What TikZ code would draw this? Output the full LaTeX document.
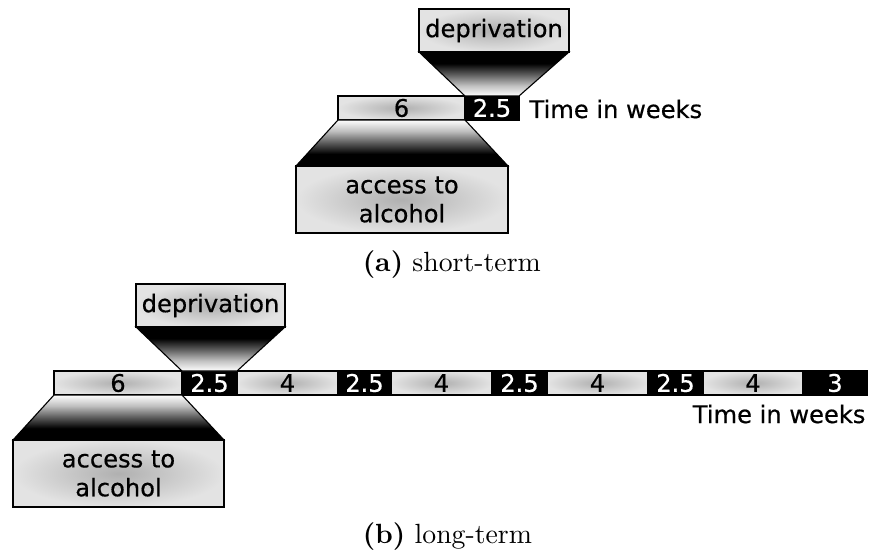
\documentclass[tikz,border=0pt]{standalone}
\usepackage{fontspec}
\newfontfamily\dejavu[FakeBold=0.5]{DejaVu Sans}
\usetikzlibrary{positioning}
\newcommand{\pxu}{0.36pt}
\pgfdeclareverticalshading{fadedown}{100bp}{color(0bp)=(white); color(25bp)=(white); color(37bp)=(black!25); color(50bp)=(black!65); color(62bp)=(black); color(100bp)=(black)}
\pgfdeclareverticalshading{fadeup}{100bp}{color(0bp)=(black); color(38bp)=(black); color(50bp)=(black!65); color(63bp)=(black!25); color(75bp)=(white); color(100bp)=(white)}
\tikzstyle{weekbox} = [rectangle, draw=black, inner sep=0pt, outer sep=0pt, minimum height=24*\pxu, inner color=gray!62, outer color=gray!22, font=\dejavu\fontsize{8.7}{10.4}\selectfont]
\tikzstyle{darkbox} = [rectangle, draw=black, fill=black, text=white, inner sep=0pt, outer sep=0pt, minimum height=24*\pxu, font=\dejavu\fontsize{8.7}{10.4}\selectfont]
\tikzstyle{phase} = [rectangle, draw=black, inner sep=0pt, outer sep=0pt, align=center, inner color=gray!62, outer color=gray!22, font=\dejavu\fontsize{8.7}{10.4}\selectfont]
\tikzstyle{axislabel} = [inner sep=0pt, font=\dejavu\fontsize{8.7}{10.4}\selectfont]
\tikzstyle{funnel} = [draw=black, line width=0.4pt]

\begin{document}
\begin{tikzpicture}[x=0.36pt, y=-0.36pt]
    \useasboundingbox (0,0) rectangle (869,557);

    % (a) short-term
    \node (a1) [weekbox, minimum width=127*\pxu, anchor=north west] at (338,96) {6};
    \node (a2) [darkbox, minimum width=54*\pxu, right=0pt of a1] {2.5};
    \node (atime) [axislabel, anchor=base west] at (529,118) {Time in weeks};
    \node (depA) [phase, minimum width=150*\pxu, minimum height=43*\pxu, anchor=north west] at (419,9) {deprivation};
    \node (accA) [phase, minimum width=212*\pxu, minimum height=67*\pxu, anchor=north west] at (296,166) {access to\\alcohol};
    \shade[funnel, shading=fadedown] (depA.south west) -- (depA.south east) -- (a2.north east) -- (a2.north west) -- cycle;
    \shade[funnel, shading=fadeup] (a1.south west) -- (a1.south east) -- (accA.north east) -- (accA.north west) -- cycle;
    \node (capA) [anchor=west] at (353,265) {\textbf{(a)} short-term};

    % (b) long-term
    \node (b1) [weekbox, minimum width=128*\pxu, anchor=north west] at (54,371) {6};
    \node (b2) [darkbox, minimum width=55*\pxu, right=0pt of b1] {2.5};
    \node (b3) [weekbox, minimum width=101*\pxu, right=0pt of b2] {4};
    \node (b4) [darkbox, minimum width=53*\pxu, right=0pt of b3] {2.5};
    \node (b5) [weekbox, minimum width=101*\pxu, right=0pt of b4] {4};
    \node (b6) [darkbox, minimum width=55*\pxu, right=0pt of b5] {2.5};
    \node (b7) [weekbox, minimum width=101*\pxu, right=0pt of b6] {4};
    \node (b8) [darkbox, minimum width=55*\pxu, right=0pt of b7] {2.5};
    \node (b9) [weekbox, minimum width=100*\pxu, right=0pt of b8] {4};
    \node (b10) [darkbox, minimum width=64*\pxu, right=0pt of b9] {3};
    \node (btime) [axislabel, anchor=base east] at (866,423) {Time in weeks};
    \node (depB) [phase, minimum width=149*\pxu, minimum height=43*\pxu, anchor=north west] at (136,284) {deprivation};
    \node (accB) [phase, minimum width=211*\pxu, minimum height=67*\pxu, anchor=north west] at (13,440) {access to\\alcohol};
    \shade[funnel, shading=fadedown] (depB.south west) -- (depB.south east) -- (b2.north east) -- (b2.north west) -- cycle;
    \shade[funnel, shading=fadeup] (b1.south west) -- (b1.south east) -- (accB.north east) -- (accB.north west) -- cycle;
    \node (capB) [anchor=west] at (353,537) {\textbf{(b)} long-term};
\end{tikzpicture}
\end{document}
